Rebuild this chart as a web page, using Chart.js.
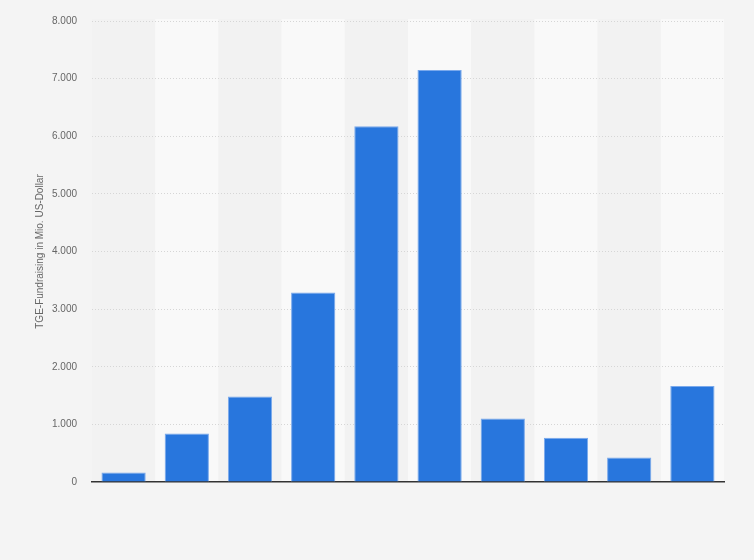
<!DOCTYPE html>
<html>
<head>
<meta charset="utf-8">
<script src="https://cdn.jsdelivr.net/npm/chart.js@4/dist/chart.umd.min.js"></script>
<style>
html,body{margin:0;padding:0;background:#f4f4f4;}
#wrap{width:754px;height:560px;position:relative;}
</style>
</head>
<body>
<div id="wrap"><canvas id="c" width="754" height="560"></canvas></div>
<script>
const categories = ['1','2','3','4','5','6','7','8','9','10'];
const fundraising = [165, 840, 1485, 3290, 6175, 7150, 1100, 770, 425, 1665];
const tickLabels = ['0','1.000','2.000','3.000','4.000','5.000','6.000','7.000','8.000'];
const yTitle = 'TGE-Fundraising in Mio. US-Dollar';

const bandPlugin = {
  id: 'bands',
  beforeDraw(chart) {
    const {ctx, chartArea, scales} = chart;
    ctx.save();
    ctx.fillStyle = '#f4f4f4';
    ctx.fillRect(0, 0, chart.width, chart.height);
    const xs = scales.x;
    const w = (chartArea.right - chartArea.left) / categories.length;
    categories.forEach((c, i) => {
      const cx = xs.getPixelForValue(i);
      ctx.fillStyle = (i % 2 === 1) ? '#f9f9f9' : '#f2f2f2';
      ctx.fillRect(cx - w / 2, chartArea.top - 2, w, chartArea.bottom - chartArea.top + 2);
    });
    ctx.restore();
  }
};

new Chart(document.getElementById('c'), {
  type: 'bar',
  data: {
    labels: categories,
    datasets: [{
      data: fundraising,
      backgroundColor: '#2876dd',
      borderColor: '#7aa9ec',
      borderWidth: {top: 1, left: 1, right: 1, bottom: 0},
      barPercentage: 0.7,
      categoryPercentage: 1.0
    }]
  },
  options: {
    responsive: false,
    animation: false,
    devicePixelRatio: 1,
    layout: {padding: {left: 28, right: 30, top: 14, bottom: 70}},
    plugins: {legend: {display: false}, tooltip: {enabled: false}},
    scales: {
      x: {
        grid: {display: false},
        ticks: {display: false},
        border: {display: true, color: '#333333', width: 1.5}
      },
      y: {
        min: 0,
        max: 8000,
        afterFit: (scale) => { scale.width = 64; },
        ticks: {
          stepSize: 1000,
          padding: 15,
          color: '#666666',
          font: {family: 'Liberation Sans, Arial, sans-serif', size: 10},
          callback: (v) => tickLabels[Math.round(v / 1000)]
        },
        grid: {
          drawTicks: false,
          color: (ctx) => ctx.tick && ctx.tick.value === 0 ? 'rgba(0,0,0,0)' : '#d6d6d6',
          lineWidth: 1
        },
        border: {display: false, dash: [1, 2]},
        title: {
          display: true,
          text: yTitle,
          color: '#666666',
          font: {family: 'Liberation Sans, Arial, sans-serif', size: 10},
          padding: {top: 6, bottom: 2}
        }
      }
    }
  },
  plugins: [bandPlugin]
});
</script>
</body>
</html>
